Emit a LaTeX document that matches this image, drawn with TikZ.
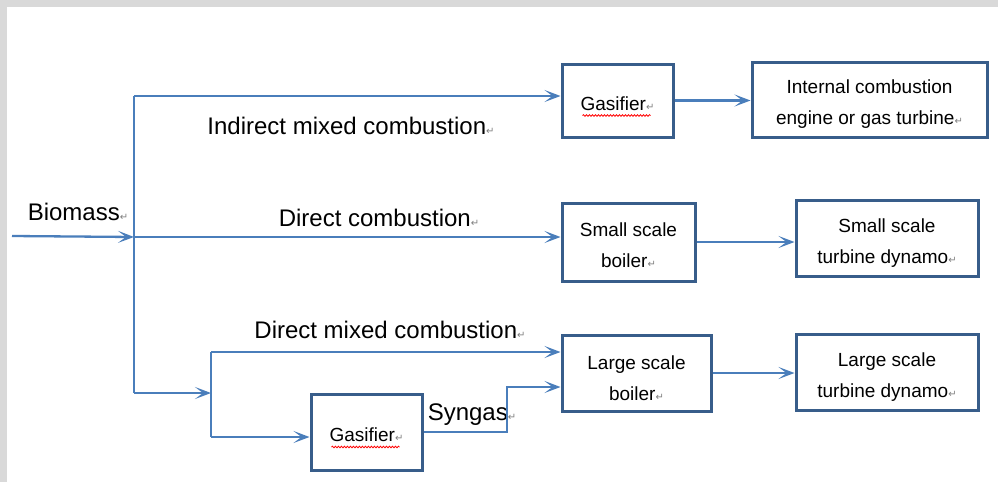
\documentclass[tikz,border=0pt]{standalone}
\usepackage{fontspec}
\setmainfont{Liberation Sans}
\newfontfamily\markfont{DejaVu Sans}
\usetikzlibrary{arrows.meta,decorations.pathmorphing}
\definecolor{boxline}{RGB}{56,93,138}
\definecolor{flow}{RGB}{74,126,187}
\definecolor{pagegray}{RGB}{217,217,217}
\newcommand{\pmark}{{\markfont\color{gray}\fontsize{10}{10}\selectfont ↵}}
\tikzset{
  plant/.style={draw=boxline,line width=3pt,inner sep=0pt},
  planttext/.style={align=center,inner sep=0pt,yshift=-5pt,
    font=\fontsize{19}{31}\selectfont},
  flowline/.style={draw=flow,line width=2.3pt},
  feed/.style={flowline,-{Stealth[length=16pt,width=12pt,inset=8pt]}},
  routelabel/.style={font=\fontsize{24}{24}\selectfont,inner sep=0pt},
  spellmark/.style={draw=red,line width=0.8pt,decorate,
    decoration={snake,segment length=3pt,amplitude=0.8pt}}
}
\begin{document}
\begin{tikzpicture}[x=1pt,y=-1pt]
\fill[pagegray] (0,0) rectangle (998,482);
\fill[white] (7,7) rectangle (998,482);
\useasboundingbox (0,0) rectangle (998,482);

\node[plant,minimum width=111pt,minimum height=73pt,label={[planttext,yshift=2pt]center:Gasifier\pmark}] (gasA) at (617.5,100.5) {};
\node[plant,minimum width=235pt,minimum height=75pt,label={[planttext]center:{Internal combustion\\engine or gas turbine\pmark}}] (ice) at (869.5,99.5) {};
\node[plant,minimum width=133pt,minimum height=78pt,label={[planttext,yshift=2pt]center:{Small scale\\boiler\pmark}}] (sboil) at (628.5,242) {};
\node[plant,minimum width=182pt,minimum height=76pt,label={[planttext]center:{Small scale\\turbine dynamo\pmark}}] (sturb) at (887,238) {};
\node[plant,minimum width=149pt,minimum height=76pt,label={[planttext]center:{Large scale\\boiler\pmark}}] (lboil) at (636.5,373) {};
\node[plant,minimum width=182pt,minimum height=76pt,label={[planttext]center:{Large scale\\turbine dynamo\pmark}}] (lturb) at (887,372) {};
\node[plant,minimum width=111pt,minimum height=76pt,label={[planttext,yshift=2pt]center:Gasifier\pmark}] (gasB) at (366.5,432) {};

\node[routelabel] (biomass) at (78,212) {Biomass\pmark};
\node[routelabel] (indirect) at (351,126) {Indirect mixed combustion\pmark};
\node[routelabel] (direct) at (379,218) {Direct combustion\pmark};
\node[routelabel] (mixed) at (390,330) {Direct mixed combustion\pmark};
\node[routelabel] (syngas) at (472,415) {Syngas\pmark};

\coordinate (src) at (12,236);
\coordinate (hub) at (134,237);
\coordinate (ttop) at (134,96);
\coordinate (tbot) at (134,393);
\coordinate (fork) at (211,393);
\coordinate (ftop) at (211,352);
\coordinate (fbot) at (211,437);
\coordinate (sg) at (507,387);

\draw[feed] (src) -- (hub);
\draw[flowline] (ttop) -- (tbot);
\draw[feed] (ttop) -- (ttop -| gasA.west);
\draw[feed] (hub) -- (hub -| sboil.west);
\draw[feed] (tbot) -- (fork);
\draw[flowline] (ftop) -- (fbot);
\draw[feed] (ftop) -- (ftop -| lboil.west);
\draw[feed] (fbot) -- (fbot -| gasB.west);
\draw[feed] (gasB.east) -| (sg) -- (sg -| lboil.west);
\draw[feed] (gasA.east) -- (gasA.east -| ice.west);
\draw[feed] (sboil.east) -- (sboil.east -| sturb.west);
\draw[feed] (lboil.east) -- (lboil.east -| lturb.west);

\draw[spellmark] ([shift={(-35,15)}]gasA.center) -- ([shift={(33,15)}]gasA.center);
\draw[spellmark] ([shift={(-35,15)}]gasB.center) -- ([shift={(33,15)}]gasB.center);
\end{tikzpicture}
\end{document}
